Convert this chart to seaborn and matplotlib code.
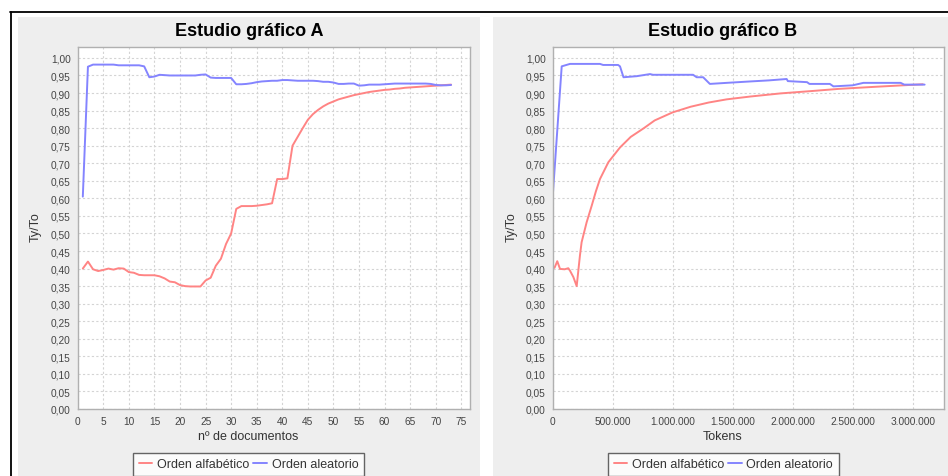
import numpy as np
import pandas as pd
import matplotlib
matplotlib.use("Agg")
import matplotlib.pyplot as plt
from matplotlib.ticker import MultipleLocator, FuncFormatter
from matplotlib.lines import Line2D
from matplotlib.patches import Rectangle
import seaborn as sns

# ---- data -------------------------------------------------------------
series_names = ["Orden alfabético", "Orden aleatorio"]

# Study A: type/token ratio per number of documents
docs = list(range(1, 74))
alfa_docs = [0.400, 0.420, 0.398, 0.393, 0.396, 0.400, 0.397, 0.401, 0.400, 0.390,
             0.388, 0.382, 0.381, 0.381, 0.381, 0.378, 0.372, 0.363, 0.361, 0.353,
             0.350, 0.349, 0.349, 0.349, 0.366, 0.374, 0.408, 0.428, 0.470, 0.500,
             0.570, 0.578, 0.578, 0.578, 0.579, 0.581, 0.583, 0.586, 0.655, 0.655,
             0.657, 0.750, 0.775, 0.800, 0.824, 0.840, 0.852, 0.862, 0.870, 0.876,
             0.882, 0.886, 0.890, 0.894, 0.897, 0.900, 0.903, 0.905, 0.907, 0.909,
             0.910, 0.912, 0.913, 0.915, 0.916, 0.917, 0.918, 0.919, 0.920, 0.921,
             0.922, 0.923, 0.924]
alea_docs = [0.605, 0.975, 0.981, 0.981, 0.981, 0.981, 0.981, 0.979, 0.979, 0.979,
             0.979, 0.979, 0.976, 0.945, 0.947, 0.952, 0.951, 0.950, 0.950, 0.950,
             0.950, 0.950, 0.950, 0.952, 0.953, 0.944, 0.943, 0.943, 0.943, 0.943,
             0.925, 0.925, 0.926, 0.928, 0.931, 0.933, 0.934, 0.935, 0.935, 0.937,
             0.937, 0.936, 0.935, 0.935, 0.935, 0.935, 0.934, 0.932, 0.932, 0.930,
             0.926, 0.926, 0.927, 0.927, 0.921, 0.922, 0.924, 0.924, 0.924, 0.925,
             0.926, 0.927, 0.927, 0.927, 0.927, 0.927, 0.927, 0.927, 0.926, 0.923,
             0.922, 0.922, 0.923]

# Study B: type/token ratio per accumulated tokens (thousands)
alfa_tokens = [15, 38, 61, 100, 130, 144, 172, 200, 227, 241, 283, 325, 360, 394,
               464, 561, 650, 760, 850, 1000, 1150, 1300, 1450, 1645, 1900, 2170,
               2390, 2700, 3085]
alfa_tok_vals = [0.402, 0.421, 0.399, 0.398, 0.401, 0.394, 0.376, 0.350, 0.437,
                 0.475, 0.532, 0.579, 0.620, 0.655, 0.703, 0.745, 0.775, 0.800,
                 0.822, 0.845, 0.861, 0.873, 0.882, 0.890, 0.899, 0.906, 0.912,
                 0.918, 0.925]
alea_tokens = [0, 75, 144, 394, 420, 545, 561, 590, 700, 811, 836, 1170, 1200,
               1254, 1310, 1450, 1645, 1800, 1950, 1960, 2120, 2140, 2310, 2340,
               2500, 2590, 2900, 2930, 3100]
alea_tok_vals = [0.605, 0.976, 0.983, 0.983, 0.980, 0.980, 0.976, 0.945, 0.948,
                 0.954, 0.952, 0.952, 0.945, 0.945, 0.926, 0.929, 0.933, 0.936,
                 0.940, 0.934, 0.931, 0.926, 0.926, 0.919, 0.922, 0.929, 0.929,
                 0.924, 0.924]

colors = {"Orden alfabético": "#ff8484", "Orden aleatorio": "#8484ff"}

# ---- figure -----------------------------------------------------------
sns.set_theme(style="white")
plt.rcParams['font.family'] = ['Liberation Sans', 'DejaVu Sans']

W, H = 948, 477
fig = plt.figure(figsize=(W / 100, H / 100), dpi=100)
fig.patch.set_facecolor("white")


def fx(px):
    return px / W


def fy(py):
    return 1 - py / H


# panel backgrounds
for x0, x1 in [(18, 480), (493, 948)]:
    fig.add_artist(Rectangle((fx(x0), 0), fx(x1) - fx(x0), fy(18),
                             transform=fig.transFigure, facecolor="#eeeeee",
                             edgecolor="none", zorder=0))
# outer frame lines
fig.add_artist(Line2D([fx(10), 1], [fy(13.3), fy(13.3)], transform=fig.transFigure,
                      color="black", lw=1.3))
fig.add_artist(Line2D([fx(10.5), fx(10.5)], [0, fy(13.3)], transform=fig.transFigure,
                      color="black", lw=1.3))


def make_axes(left, right, top=47.7, bottom=410):
    ax = fig.add_axes([fx(left), fy(bottom), (right - left) / W, (bottom - top) / H])
    ax.set_facecolor("white")
    for s in ax.spines.values():
        s.set_color("#b0b0b0")
        s.set_linewidth(1.0)
    ax.grid(True, color="#d4d4d4", linestyle=(0, (2, 2)), linewidth=0.8)
    ax.set_axisbelow(True)
    ax.set_ylim(0, 1.032)
    ax.yaxis.set_major_locator(MultipleLocator(0.05))
    ax.yaxis.set_major_formatter(FuncFormatter(lambda v, p: f"{v:.2f}".replace(".", ",")))
    ax.tick_params(axis="both", which="major", labelsize=7.3, labelcolor="#444444",
                   colors="#888888", length=2, width=0.7, pad=3)
    return ax


def draw(ax, x_a, y_a, x_b, y_b):
    df = pd.concat([
        pd.DataFrame({"x": x_a, "v": y_a, "serie": series_names[0]}),
        pd.DataFrame({"x": x_b, "v": y_b, "serie": series_names[1]}),
    ])
    sns.lineplot(data=df, x="x", y="v", hue="serie", palette=colors, sort=False,
                 estimator=None, legend=False, linewidth=1.4, ax=ax)
    ax.set_xlabel("")
    ax.set_ylabel("")


# Study A
axA = make_axes(77.7, 470)
draw(axA, docs, alfa_docs, docs, alea_docs)
axA.set_xlim(0, 76.7)
axA.xaxis.set_major_locator(MultipleLocator(5))
axA.tick_params(axis="both", labelcolor="#444444")

# Study B
axB = make_axes(552.7, 944.3)
draw(axB, [t * 1000 for t in alfa_tokens], alfa_tok_vals,
     [t * 1000 for t in alea_tokens], alea_tok_vals)
axB.set_xlim(0, 3264000)
axB.xaxis.set_major_locator(MultipleLocator(500000))
axB.xaxis.set_major_formatter(FuncFormatter(lambda v, p: f"{int(round(v)):,}".replace(",", ".")))
axB.tick_params(axis="both", labelcolor="#444444")

# titles, axis labels and legends
for cx, title, xlabel, ylx, lx in [
    (249, "Estudio gráfico A", "nº de documentos", 36, 133),
    (722.5, "Estudio gráfico B", "Tokens", 512, 608),
]:
    fig.text(fx(cx), fy(32), title, ha="center", va="center",
             fontsize=13, fontweight="bold", color="black")
    fig.text(fx(lx + 115), fy(437.5), xlabel, ha="center", va="center",
             fontsize=9, color="#333333")
    fig.text(fx(ylx), fy(227), "Ty/To", ha="center", va="center",
             rotation=90, fontsize=9, color="#333333")
    handles = [Line2D([], [], color=colors[n], lw=1.4) for n in series_names]
    leg = fig.legend(handles, series_names, loc="upper left",
                     bbox_to_anchor=(fx(lx), fy(453.5)), ncol=2, frameon=True,
                     fancybox=False, fontsize=9, handlelength=1.1,
                     handletextpad=0.35, columnspacing=0.35, borderpad=0.45,
                     borderaxespad=0)
    leg.get_frame().set_edgecolor("#404040")
    leg.get_frame().set_linewidth(1.0)
    leg.get_frame().set_facecolor("white")
    for t in leg.get_texts():
        t.set_color("#333333")

fig.savefig("out.png", dpi=100, facecolor="white")
